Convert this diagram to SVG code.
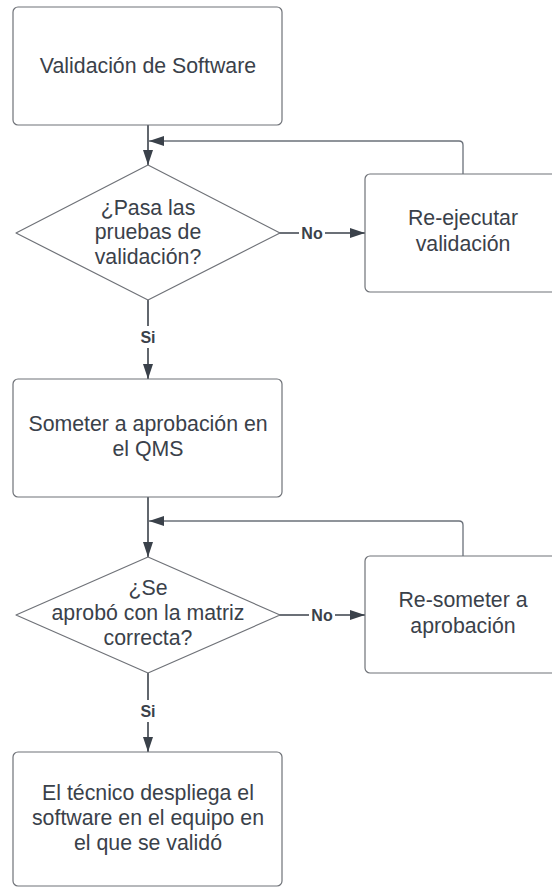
<svg xmlns="http://www.w3.org/2000/svg" width="552" height="888" viewBox="0 0 552 888">
<style>
.shape{fill:#ffffff;stroke:#6f7278;stroke-width:1.2;stroke-linejoin:round}
.t{font-family:"Liberation Sans",Arial,sans-serif;font-size:21.3px;fill:#3a414a;text-anchor:middle}
.lbl{font-family:"Liberation Sans",Arial,sans-serif;font-size:16px;font-weight:bold;fill:#3a414a;text-anchor:middle}
.c{fill:none;stroke:#3a414a;stroke-width:1.6}
.fb{fill:none;stroke:#6b717a;stroke-width:1.3}
</style>
<defs>
<marker id="ah" markerUnits="userSpaceOnUse" markerWidth="16" markerHeight="11" refX="15" refY="5" orient="auto">
<path d="M0,0 L15,5 L0,10 Z" fill="#3a414a"/>
</marker>
</defs>
<rect width="552" height="888" fill="#ffffff"/>
<g id="connectors">
<path class="c" d="M148,125 L148,165" marker-end="url(#ah)"/>
<path class="fb" d="M463,174 L463,145 Q463,141 459,141 L149,141" marker-end="url(#ah)"/>
<path class="c" d="M279,233 L365,233" marker-end="url(#ah)"/>
<path class="c" d="M148,300 L148,379" marker-end="url(#ah)"/>
<path class="c" d="M148,497 L148,557" marker-end="url(#ah)"/>
<path class="fb" d="M463,556 L463,525 Q463,521 459,521 L149,521" marker-end="url(#ah)"/>
<path class="c" d="M279,615 L365,615" marker-end="url(#ah)"/>
<path class="c" d="M148,673 L148,752" marker-end="url(#ah)"/>
<rect x="137" y="326" width="22" height="22" fill="#ffffff"/>
<text class="lbl" x="148" y="343">Si</text>
<rect x="299" y="224" width="26" height="18" fill="#ffffff"/>
<text class="lbl" x="312" y="239">No</text>
<rect x="309" y="606" width="26" height="18" fill="#ffffff"/>
<text class="lbl" x="322" y="621">No</text>
<rect x="137" y="700" width="22" height="22" fill="#ffffff"/>
<text class="lbl" x="148" y="717">Si</text>
</g>
<g id="n1">
<rect class="shape" x="13" y="7" width="269" height="118" rx="5"/>
<text class="t" x="148" y="72.5">Validación de Software</text>
</g>
<g id="n2">
<path class="shape" d="M148,165 L280,233 L148,300 L16,233 Z"/>
<text class="t" x="148" y="214.5">¿Pasa las</text>
<text class="t" x="148" y="239">pruebas de</text>
<text class="t" x="148" y="263.5">validación?</text>
</g>
<g id="n3">
<rect class="shape" x="365" y="174" width="196" height="118" rx="5"/>
<text class="t" x="463" y="224.5">Re-ejecutar</text>
<text class="t" x="463" y="250.5">validación</text>
</g>
<g id="n4">
<rect class="shape" x="13" y="379" width="269" height="118" rx="5"/>
<text class="t" x="148" y="430.5">Someter a aprobación en</text>
<text class="t" x="148" y="455.5">el QMS</text>
</g>
<g id="n5">
<path class="shape" d="M148,557 L280,615 L148,673 L16,615 Z"/>
<text class="t" x="148" y="594.5">¿Se</text>
<text class="t" x="148" y="620">aprobó con la matriz</text>
<text class="t" x="148" y="644.5">correcta?</text>
</g>
<g id="n6">
<rect class="shape" x="365" y="556" width="196" height="117" rx="5"/>
<text class="t" x="463" y="606.5">Re-someter a</text>
<text class="t" x="463" y="632.5">aprobación</text>
</g>
<g id="n7">
<rect class="shape" x="13" y="752" width="269" height="134" rx="5"/>
<text class="t" x="148" y="799.5">El técnico despliega el</text>
<text class="t" x="148" y="824.5">software en el equipo en</text>
<text class="t" x="148" y="849.5">el que se validó</text>
</g>
</svg>
